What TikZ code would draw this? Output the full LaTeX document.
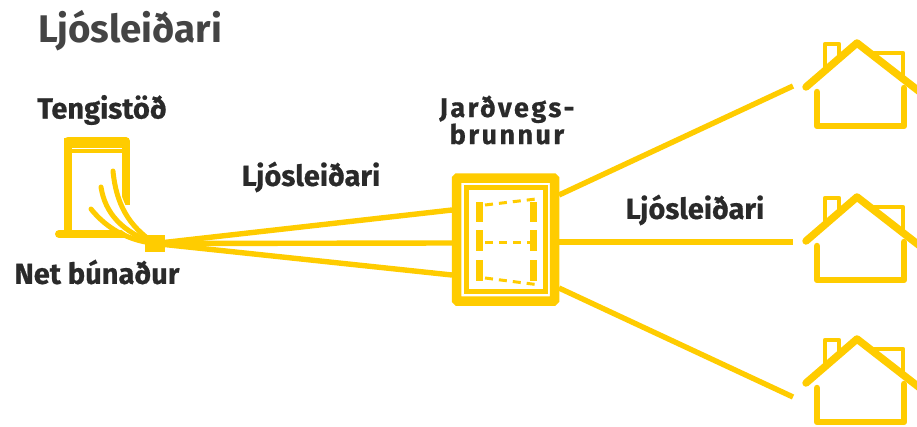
\documentclass[tikz,border=0pt]{standalone}
\usepackage{fontspec}
\setmainfont{Fira Sans}
\newfontfamily\labfont[BoldFeatures={FakeBold=0.6}]{Fira Sans}
\newfontfamily\widefont[BoldFeatures={FakeBold=0.6},LetterSpace=9]{Fira Sans}
\definecolor{ylw}{HTML}{FFCC00}
\definecolor{lbl}{HTML}{2A2A2A}
\definecolor{ttl}{HTML}{444444}
\tikzset{
  fiber/.style={draw=ylw,line width=5.4pt},
  curvefiber/.style={draw=ylw,line width=5pt,line cap=round},
  house line/.style={draw=ylw,line width=6.5pt,line cap=round,line join=round},
  roof line/.style={draw=ylw,line width=7.5pt,line cap=round,line join=round},
  chimney/.style={draw=ylw,line width=4.5pt,line cap=round,line join=round},
  lab/.style={text=lbl,font=\labfont\bfseries\fontsize{29}{27}\selectfont,inner sep=0pt,align=center},
  seg/.style={draw=ylw,line width=7pt},
  dashline/.style={draw=ylw,line width=3pt,dash pattern=on 8pt off 6pt}
}
\newcommand{\house}[2]{%
  \begin{scope}[shift={(0,#2)}]
    \coordinate (#1left) at (806,87);
    \coordinate (#1apex) at (857,43);
    \coordinate (#1right) at (920,92);
    \draw[chimney] (825,68) -- (825,44) -- (839,44) -- (839,56);
    \draw[chimney] (868,53) -- (903,53) -- (903,76);
    \draw[house line] (817,92) -- (817,126) -- (904,126) -- (904,88);
    \draw[roof line] (#1left) -- (#1apex) -- (#1right);
  \end{scope}}
\begin{document}
\begin{tikzpicture}[x=1pt,y=-1pt]
\useasboundingbox (0,0) rectangle (917,426);
\fill[white] (0,0) rectangle (917,426);
\node[anchor=west,text=ttl,font=\fontsize{38.5}{42}\selectfont\bfseries,inner sep=0pt] (title) at (38,31) {Ljósleiðari};
\node[lab] (teng) at (102,110) {Tengistöð};
\node[lab] (net) at (97,272) {Net búnaður};
\node[lab] (fib1) at (311,177) {Ljósleiðari};
\node[lab] (fib2) at (695,210) {Ljósleiðari};
\node[lab,font=\widefont\bfseries\fontsize{27}{27}\selectfont] (brunn) at (507,120) {Jarðvegs-\\brunnur};
% station
\draw[draw=ylw,line width=8pt,line join=round] (67.5,234) -- (67.5,141) -- (125.5,141) -- (125.5,205);
\draw[draw=ylw,line width=10pt] (64,143) -- (129,143);
\draw[draw=white,line width=1.4pt] (72,148.6) -- (121.5,148.6);
\draw[draw=ylw,line width=4pt] (71,151) -- (122,151);
\draw[draw=ylw,line width=8pt,line cap=round] (59,234) -- (130,234);
\coordinate (sp) at (155,243.5);
\coordinate (c1) at (91,209);
\coordinate (c2) at (101,187);
\coordinate (c3) at (113,171);
\draw[draw=white,line width=7.5pt] (c2) .. controls (105,213) and (122,232) .. (sp);
\draw[draw=white,line width=7.5pt] (c3) .. controls (116,203) and (128,226) .. (sp);
\draw[curvefiber] (c1) .. controls (103,224) and (123,240) .. (sp);
\draw[curvefiber] (c2) .. controls (105,213) and (122,232) .. (sp);
\draw[curvefiber] (c3) .. controls (116,203) and (128,226) .. (sp);
\node[fill=ylw,minimum width=20pt,minimum height=17pt,inner sep=0pt] (splice) at (sp) {};
% chamber
\node[draw=ylw,line width=9.5pt,rounded corners=1pt,minimum width=98pt,minimum height=123pt,inner sep=0pt] (well) at (505.5,239.5) {};
\coordinate (wl1) at (452,210);
\coordinate (wl2) at (452,243);
\coordinate (wl3) at (452,275);
\coordinate (wr1) at (559,195);
\coordinate (wr2) at (559,242);
\coordinate (wr3) at (559,288);
\draw[fiber] (splice.center) -- (wl1);
\draw[fiber] (splice.center) -- (wl2);
\draw[fiber] (splice.center) -- (wl3);
\draw[draw=ylw,line width=5pt] (466,187.5) rectangle (545.5,291);
\draw[dashline] (485,205) -- (536,199);
\draw[dashline] (485,242) -- (530,242);
\draw[dashline] (485,278) -- (540,285);
\foreach \xx in {479,533}{
  \draw[seg] (\xx,202) -- (\xx,222);
  \draw[seg] (\xx,230) -- (\xx,251);
  \draw[seg] (\xx,260) -- (\xx,281);
}
% houses
\coordinate (h1in) at (793,86);
\coordinate (h2in) at (793,242);
\coordinate (h3in) at (793,397);
\draw[fiber] (wr1) -- (h1in);
\draw[fiber] (wr2) -- (h2in);
\draw[fiber] (wr3) -- (h3in);
\house{a}{0}
\house{b}{154}
\house{c}{296}
\end{tikzpicture}
\end{document}
